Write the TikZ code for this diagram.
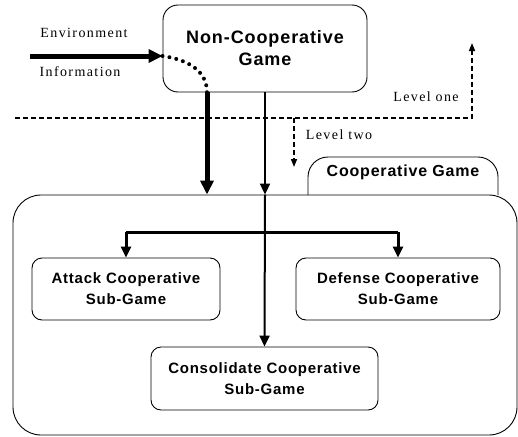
\documentclass[tikz,border=0pt]{standalone}
\usepackage{fontspec}
\setmainfont{Liberation Serif}
\newfontfamily\labfont[LetterSpace=5]{Liberation Sans}
\newfontfamily\serfont[LetterSpace=10]{Liberation Serif}
\usetikzlibrary{arrows.meta,calc}
\begin{document}
\begin{tikzpicture}[x=1pt,y=-1pt,
  box/.style={draw,line width=0.9pt,align=center,inner sep=0pt,font=\labfont\bfseries\fontsize{15}{21}\selectfont},
  bigtip/.style={-{Triangle[length=14pt,width=13pt]}},
  midtip/.style={-{Triangle[length=11pt,width=10pt]}},
  dashtip/.style={-{Triangle[length=8pt,width=6pt]}},
  lbl/.style={font=\serfont\fontsize{14}{16}\selectfont,inner sep=0pt}]
\useasboundingbox (0,0) rectangle (518,436);
% outer cooperative game container
\node[draw,line width=0.9pt,rounded corners=28pt,minimum width=504pt,minimum height=240pt,inner sep=0pt] (coop) at (265,315) {};
% tab
\draw[line width=0.9pt,rounded corners=20pt] (308,195) -- (308,157) -- (498,157) -- (498,195);
\node[font=\labfont\bfseries\fontsize{16}{19}\selectfont,inner sep=0pt] (tab) at (403,172) {Cooperative Game};
% top box
\node[box,rounded corners=15pt,minimum width=204pt,minimum height=87pt,font=\labfont\bfseries\fontsize{18}{22}\selectfont] (noncoop) at (265,48.5) {Non-Cooperative\\Game};
% sub-games
\node[box,rounded corners=10pt,minimum width=188pt,minimum height=62pt] (attack) at (126,289) {Attack Cooperative\\Sub-Game};
\node[box,rounded corners=10pt,minimum width=204pt,minimum height=62pt] (defense) at (398,289) {Defense Cooperative\\Sub-Game};
\node[box,rounded corners=10pt,minimum width=227pt,minimum height=63pt] (consol) at (264.5,378.5) {Consolidate Cooperative\\Sub-Game};
% labels
\node[lbl] (env) at (84,33) {Environment};
\node[lbl] (info) at (80,72) {Information};
\node[lbl] (lvone) at (426,97) {Level one};
\node[lbl] (lvtwo) at (339,135) {Level two};
% coordinates
\coordinate (ein) at (30,56);
\coordinate (eend) at (noncoop.west |- 0,56);
\coordinate (tkstart) at (207,0 |- noncoop.south);
\coordinate (tkend) at (207,0 |- coop.north);
\coordinate (tnstart) at (265,0 |- noncoop.south);
\coordinate (tnmid) at (265,0 |- coop.north);
\coordinate (brL) at (attack.north |- 0,232);
\coordinate (brR) at (defense.north |- 0,232);
\coordinate (dashL) at (15,118);
\coordinate (dashR) at (472,118);
\coordinate (dashUp) at (472,43);
\coordinate (lt1) at (294,118);
\coordinate (lt2) at (294,167);
% environment arrow
\draw[line width=5pt,bigtip] (ein) -- (eend);
\draw[line width=4pt,line cap=round,dash pattern=on 0pt off 7pt] (eend) .. controls (190,60) and (207,72) .. (tkstart);
% main arrows
\draw[line width=5pt,bigtip] (tkstart) -- (tkend);
\draw[line width=2pt,midtip] (tnstart) -- (tnmid);
\draw[line width=2pt,midtip] (tnmid) -- (consol.north);
\draw[line width=3pt,midtip] (brL) -- (attack.north);
\draw[line width=3pt,midtip] (brR) -- (defense.north);
\draw[line width=3pt] (brL) -- (brR);
% dashed level lines
\draw[line width=1.5pt,dash pattern=on 5pt off 3pt,dashtip] (dashL) -- (dashR) -- (dashUp);
\draw[line width=1.5pt,dash pattern=on 5pt off 3pt,dashtip] (lt1) -- (lt2);
\end{tikzpicture}
\end{document}
